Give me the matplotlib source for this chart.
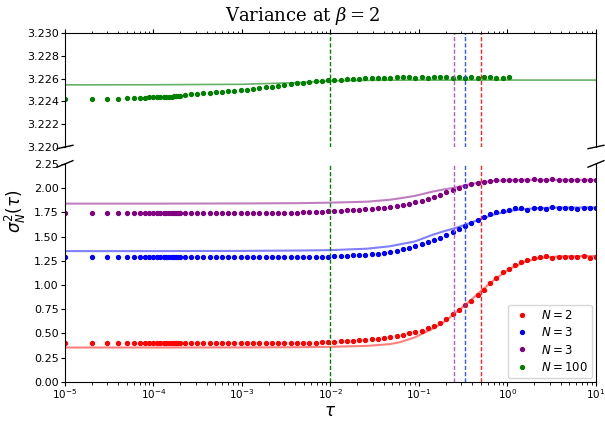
import numpy as np
import matplotlib
matplotlib.use("Agg")
import matplotlib.pyplot as plt

# tau grid: linear part then log part
tau_lin = [1e-5, 2e-5, 3e-5, 4e-5, 5e-5, 6e-5, 7e-5, 8e-5, 9e-5, 1e-4,
           1.1e-4, 1.2e-4, 1.3e-4, 1.4e-4, 1.5e-4, 1.6e-4, 1.7e-4, 1.8e-4, 1.9e-4, 2e-4]
tau_log = [2.25e-4, 2.65e-4, 3.11e-4, 3.66e-4, 4.30e-4, 5.06e-4, 5.95e-4, 7.00e-4, 8.23e-4, 9.68e-4,
           1.14e-3, 1.34e-3, 1.57e-3, 1.85e-3, 2.18e-3, 2.56e-3, 3.01e-3, 3.54e-3, 4.17e-3, 4.90e-3,
           5.77e-3, 6.78e-3, 7.97e-3, 9.37e-3, 1.10e-2, 1.30e-2, 1.52e-2, 1.79e-2, 2.11e-2, 2.48e-2,
           2.92e-2, 3.43e-2, 4.03e-2, 4.75e-2, 5.58e-2, 6.56e-2, 7.72e-2, 9.08e-2, 0.107, 0.126,
           0.148, 0.174, 0.204, 0.240, 0.282, 0.332, 0.391, 0.459, 0.540, 0.635,
           0.747, 0.879, 1.03, 1.22, 1.43, 1.68, 1.98, 2.32, 2.73, 3.21,
           3.78, 4.45, 5.23, 6.15, 7.23, 8.50, 10.0]
tau = tau_lin + tau_log

red_pts = [0.40] * 20 + [0.40] * 19 + [
    0.40, 0.40, 0.40, 0.41, 0.41, 0.41, 0.42, 0.42, 0.42, 0.43,
    0.43, 0.44, 0.44, 0.45, 0.46, 0.47, 0.48, 0.50, 0.52, 0.53,
    0.56, 0.58, 0.61, 0.65, 0.70, 0.74, 0.79, 0.84, 0.90, 0.95,
    1.02, 1.07, 1.13, 1.17, 1.21, 1.24, 1.26, 1.28, 1.29, 1.30,
    1.28, 1.29, 1.29, 1.29, 1.29, 1.30, 1.28, 1.29]
blue_pts = [1.285] * 20 + [1.285] * 19 + [
    1.29, 1.29, 1.29, 1.29, 1.29, 1.30, 1.30, 1.30, 1.305, 1.31,
    1.31, 1.315, 1.32, 1.33, 1.34, 1.355, 1.37, 1.385, 1.40, 1.42,
    1.44, 1.465, 1.49, 1.52, 1.55, 1.58, 1.61, 1.64, 1.67, 1.70,
    1.73, 1.75, 1.76, 1.77, 1.79, 1.79, 1.77, 1.79, 1.79, 1.78,
    1.81, 1.79, 1.79, 1.79, 1.78, 1.79, 1.79, 1.80]
purple_pts = [1.745] * 20 + [1.745] * 19 + [
    1.75, 1.752, 1.755, 1.757, 1.76, 1.763, 1.766, 1.77, 1.773, 1.776,
    1.78, 1.785, 1.79, 1.797, 1.805, 1.815, 1.825, 1.838, 1.852, 1.868,
    1.885, 1.905, 1.93, 1.955, 1.98, 2.00, 2.02, 2.04, 2.055, 2.065,
    2.075, 2.08, 2.08, 2.085, 2.085, 2.08, 2.085, 2.09, 2.085, 2.085,
    2.09, 2.085, 2.085, 2.085, 2.085, 2.085, 2.085, 2.085]
green_pts = [3.22422, 3.22422, 3.22422, 3.22422, 3.22428, 3.22428, 3.22428, 3.22428,
             3.22435, 3.22435, 3.22435, 3.22435, 3.22442, 3.22442, 3.22442, 3.22442,
             3.22448, 3.22448, 3.22448, 3.22448,
             3.2246, 3.22463, 3.22467, 3.2247, 3.22474, 3.22478, 3.22483, 3.22487, 3.22492, 3.22498,
             3.22504, 3.2251, 3.22517, 3.22524, 3.2253, 3.22537, 3.22544, 3.2255, 3.22557, 3.22563,
             3.2257, 3.22575, 3.2258, 3.22584, 3.22588, 3.22592, 3.22595, 3.22598, 3.226, 3.22603,
             3.22605, 3.22607, 3.22608, 3.22609, 3.2261, 3.22612, 3.2261, 3.22609, 3.2261, 3.22608,
             3.2261, 3.22613, 3.22612, 3.22609, 3.22611, 3.22608, 3.22615, 3.22604, 3.22613, 3.2261,
             3.22608, 3.22609, 3.22611]
tau_green = tau[:len(green_pts)]

# theory curves
tau_th = [1e-5, 1e-4, 1e-3, 4.5e-3, 1e-2, 0.026, 0.047, 0.061, 0.09, 0.144,
          0.2, 0.24, 0.33, 0.49, 0.72, 1.07, 1.58, 2.33, 3.9, 10]
red_th = [0.355, 0.355, 0.356, 0.358, 0.362, 0.372, 0.39, 0.41, 0.46, 0.55,
          0.63, 0.69, 0.79, 0.93, 1.06, 1.17, 1.24, 1.28, 1.295, 1.30]
blue_th = [1.35, 1.35, 1.352, 1.356, 1.36, 1.375, 1.40, 1.42, 1.45, 1.52,
           1.56, 1.58, 1.62, 1.68, 1.73, 1.765, 1.785, 1.795, 1.80, 1.80]
purple_th = [1.84, 1.84, 1.842, 1.845, 1.85, 1.86, 1.88, 1.895, 1.92, 1.965,
             1.99, 2.00, 2.03, 2.06, 2.075, 2.083, 2.085, 2.085, 2.085, 2.085]
green_th = [3.22545, 3.22546, 3.2255, 3.22565, 3.2258, 3.22584, 3.22586, 3.22586, 3.22587, 3.22587,
            3.22587, 3.22587, 3.22587, 3.22587, 3.22587, 3.22587, 3.22587, 3.22587, 3.22587, 3.22587]

tau_marks = [0.5, 1 / 3, 0.25, 0.01]
colors = ['red', 'blue', 'purple', 'green']
labels = ['$N = 2$', '$N = 3$', '$N = 3$', '$N = 100$']

fig = plt.figure(figsize=(6.05, 4.22), dpi=100)
ax = fig.add_axes([0.1074, 0.6517, 0.8777, 0.2701])
ax2 = fig.add_axes([0.1074, 0.095, 0.8777, 0.5166])

pts = [red_pts, blue_pts, purple_pts]
ths = [red_th, blue_th, purple_th]
vcols = ['#ff2020', '#3355ff', '#b060c0', 'green']
for a in (ax, ax2):
    for p, th, c, lab in zip(pts, ths, colors[:3], labels[:3]):
        a.plot(tau_th, th, '-', color=c, alpha=0.5, lw=1.5)
        a.plot(tau, p, 'o', ms=2.8, color=c, label=lab)
    a.plot(tau_th, green_th, '-', color='green', alpha=0.6, lw=1.2)
    a.plot(tau_green, green_pts, 'o', ms=2.8, color='green', label=labels[3])
    for t, c in zip(tau_marks, vcols):
        a.axvline(t, color=c, ls='--', lw=1.0, dashes=(3, 1.5))
    a.set_xscale('log')
    a.set_xlim(1e-5, 10)
    a.tick_params(labelsize=8, length=3, pad=1.5)
    a.tick_params(which='minor', length=1.8)
ax2.tick_params(axis='x', labelsize=7.5, pad=1)

ax.set_ylim(3.220, 3.230)
ax.set_yticks([3.220, 3.222, 3.224, 3.226, 3.228, 3.230])
ax.yaxis.set_major_formatter(matplotlib.ticker.FormatStrFormatter('%.3f'))
ax2.set_ylim(0, 2.25)
ax2.set_yticks(np.arange(0, 2.26, 0.25))
ax2.yaxis.set_major_formatter(matplotlib.ticker.FormatStrFormatter('%.2f'))

ax.spines['bottom'].set_visible(False)
ax2.spines['top'].set_visible(False)
ax.xaxis.tick_top()
ax.tick_params(which='both', labeltop=False)
ax2.xaxis.tick_bottom()

d = .015
kw = dict(transform=ax.transAxes, color='k', clip_on=False, lw=1)
ax.plot((-d, +d), (-d, +d), **kw)
ax.plot((1 - d, 1 + d), (-d, +d), **kw)
kw.update(transform=ax2.transAxes)
ax2.plot((-d, +d), (1 - d, 1 + d), **kw)
ax2.plot((1 - d, 1 + d), (1 - d, 1 + d), **kw)

ax2.legend(loc='lower right', fontsize=8.5, handlelength=1.6, handletextpad=0.8,
           borderaxespad=0.3, labelspacing=0.35)
fig.text(0.546, 0.004, r'$\tau$', fontsize=12, ha='center', va='bottom')
fig.text(0.026, 0.5, r'$\sigma_N^2(\tau)$', rotation=90, fontsize=12, ha='center', va='center')
fig.suptitle(r'Variance at $\beta = 2$', family='serif', math_fontfamily='dejavuserif',
             fontsize=13, y=0.963, va='center')

fig.savefig('out.png', dpi=100)
